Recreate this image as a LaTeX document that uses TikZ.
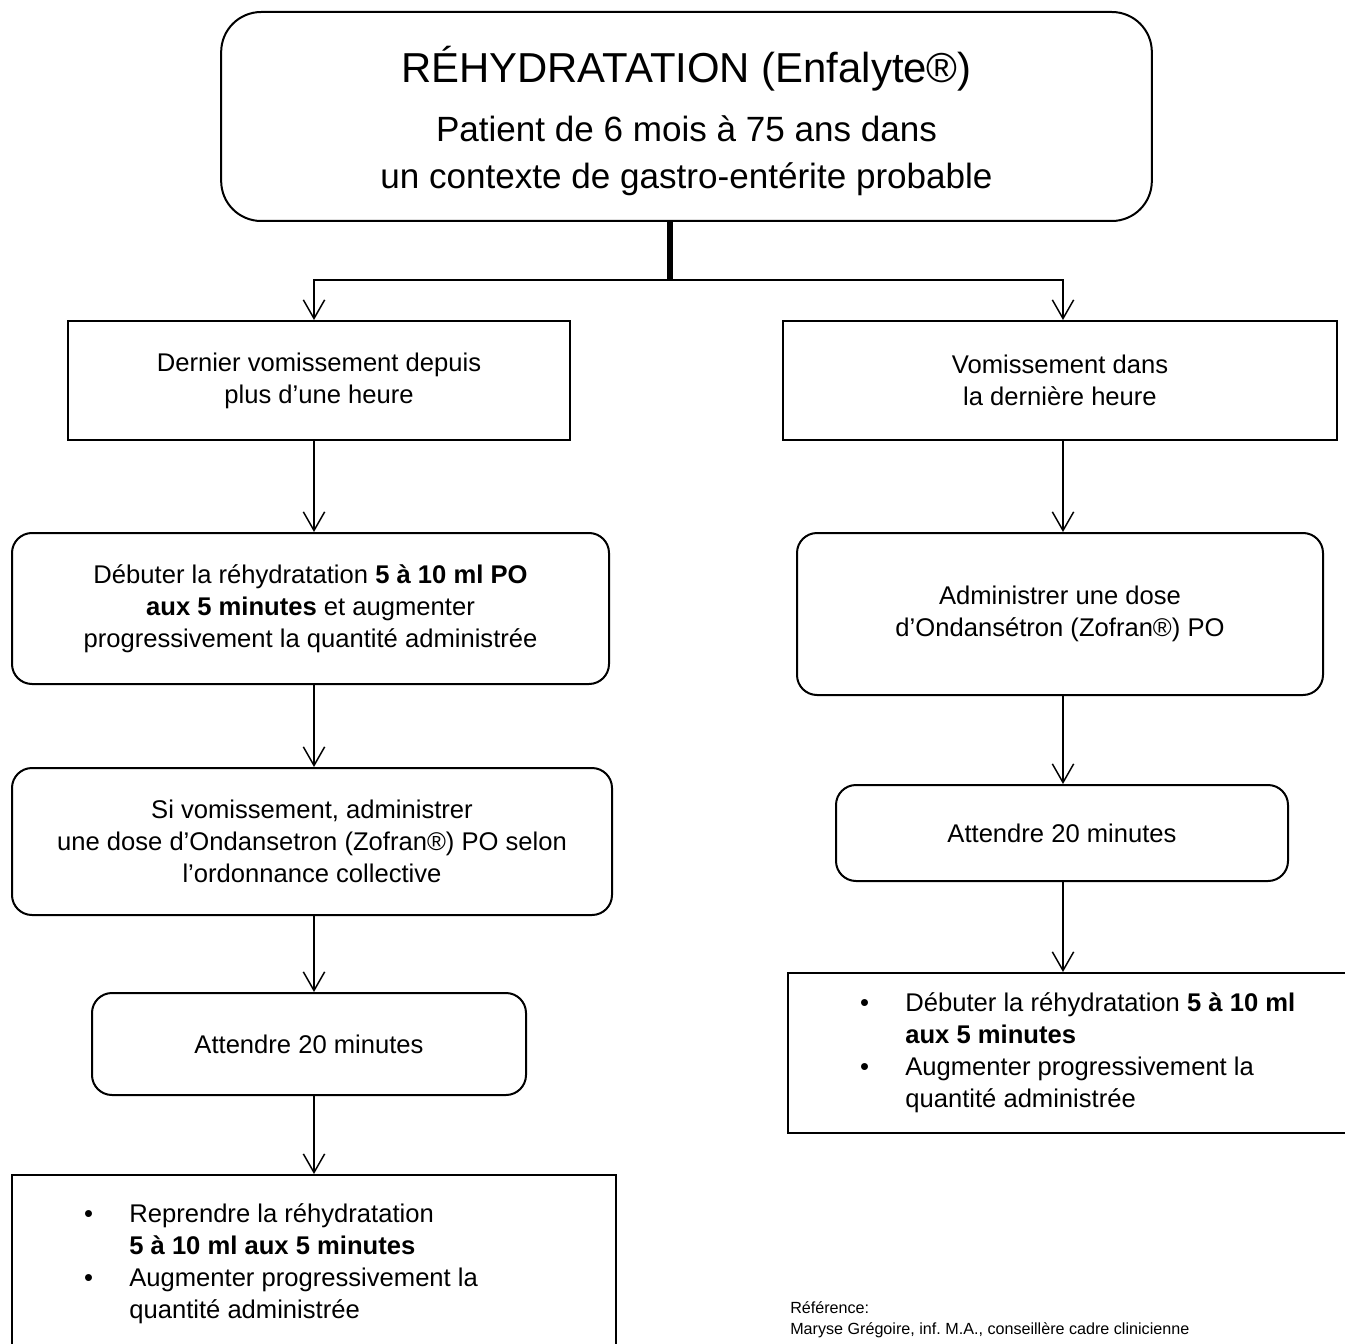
\documentclass[tikz,border=0pt]{standalone}
\usepackage{fontspec}
\setmainfont{Liberation Sans}
\usetikzlibrary{arrows.meta}

\begin{document}
\begin{tikzpicture}[
    x=0.75pt, y=-0.75pt,
    every node/.style={font=\fontsize{19.2}{24}\selectfont},
    box/.style={rectangle, draw, line width=1.5pt, align=center, inner sep=0pt},
    roundbox/.style={box, rounded corners=15pt},
    listbox/.style={rectangle, draw, line width=1.5pt, anchor=north west, inner xsep=54pt, inner ysep=0pt},
    arr/.style={-{Straight Barb[length=14pt, width=16pt]}, line width=1.1pt},
    reflabel/.style={font=\fontsize{12.1}{15.75}\selectfont, anchor=north west, align=left, inner sep=0pt}
]
\useasboundingbox (0,0) rectangle (1345,1344);
\clip (0,0) rectangle (1345,1344);

% === TITLE ===
\node[roundbox, rounded corners=30pt, minimum width=698pt, minimum height=156.75pt,
      font=\fontsize{26.3}{35}\selectfont] (title) at (686.5,116.5)
    {{\fontsize{31.4}{36}\selectfont\rule{0pt}{34pt}RÉHYDRATATION (Enfalyte®)}\\[9pt]
     Patient de 6 mois à 75 ans dans\\ un contexte de gastro-entérite probable};

% === LEFT BRANCH ===
\node[box, minimum width=376.5pt, minimum height=89.25pt] (left1) at (319,380.5)
    {Dernier vomissement depuis\\ plus d’une heure};
\node[roundbox, minimum width=447.75pt, minimum height=113.25pt] (left2) at (310.5,608.5)
    {Débuter la réhydratation \textbf{5 à 10 ml PO}\\ \textbf{aux 5 minutes} et augmenter\\
     progressivement la quantité administrée};
\node[roundbox, minimum width=450pt, minimum height=110.25pt] (left3) at (312,841.5)
    {Si vomissement, administrer\\ une dose d’Ondansetron (Zofran®) PO selon\\ l’ordonnance collective};
\node[roundbox, minimum width=325.5pt, minimum height=76.5pt] (left4) at (309,1044)
    {Attendre 20 minutes};
\node[listbox, minimum height=134.25pt] (left5) at (11,1174)
    {\begin{tabular}{@{}p{34pt}@{}p{311pt}@{}}
     \textbullet & Reprendre la réhydratation\\
                 & \textbf{5 à 10 ml aux 5 minutes}\\
     \textbullet & Augmenter progressivement la\\
                 & quantité administrée
     \end{tabular}};

% === RIGHT BRANCH ===
\node[box, minimum width=415.5pt, minimum height=89.25pt] (right1) at (1060,380.5)
    {Vomissement dans\\ la dernière heure};
\node[roundbox, minimum width=394.5pt, minimum height=121.5pt] (right2) at (1060,614)
    {Administrer une dose\\ d’Ondansétron (Zofran®) PO};
\node[roundbox, minimum width=339pt, minimum height=72pt] (right3) at (1062,833)
    {Attendre 20 minutes};
\node[listbox, minimum height=120pt] (right4) at (787,972)
    {\begin{tabular}{@{}p{34pt}@{}p{330pt}@{}}
     \textbullet & Débuter la réhydratation \textbf{5 à 10 ml}\\
                 & \textbf{aux 5 minutes}\\
     \textbullet & Augmenter progressivement la\\
                 & quantité administrée
     \end{tabular}};

% Reference
\node[reflabel] (ref) at (790,1301)
    {Référence:\\ Maryse Grégoire, inf.\ M.A., conseillère cadre clinicienne};

% === CONNECTORS ===
\coordinate (split) at (670,280);
\coordinate (colL) at (314,0);
\coordinate (colR) at (1063,0);
\draw[line width=5pt] (title.south -| split) -- (split);
\draw[arr] (split) -| (colL |- left1.north);
\draw[arr] (split) -| (colR |- right1.north);

\draw[arr] (colL |- left1.south) -- (colL |- left2.north);
\draw[arr] (colL |- left2.south) -- (colL |- left3.north);
\draw[arr] (colL |- left3.south) -- (colL |- left4.north);
\draw[arr] (colL |- left4.south) -- (colL |- left5.north);

\draw[arr] (colR |- right1.south) -- (colR |- right2.north);
\draw[arr] (colR |- right2.south) -- (colR |- right3.north);
\draw[arr] (colR |- right3.south) -- (colR |- right4.north);

\end{tikzpicture}
\end{document}
